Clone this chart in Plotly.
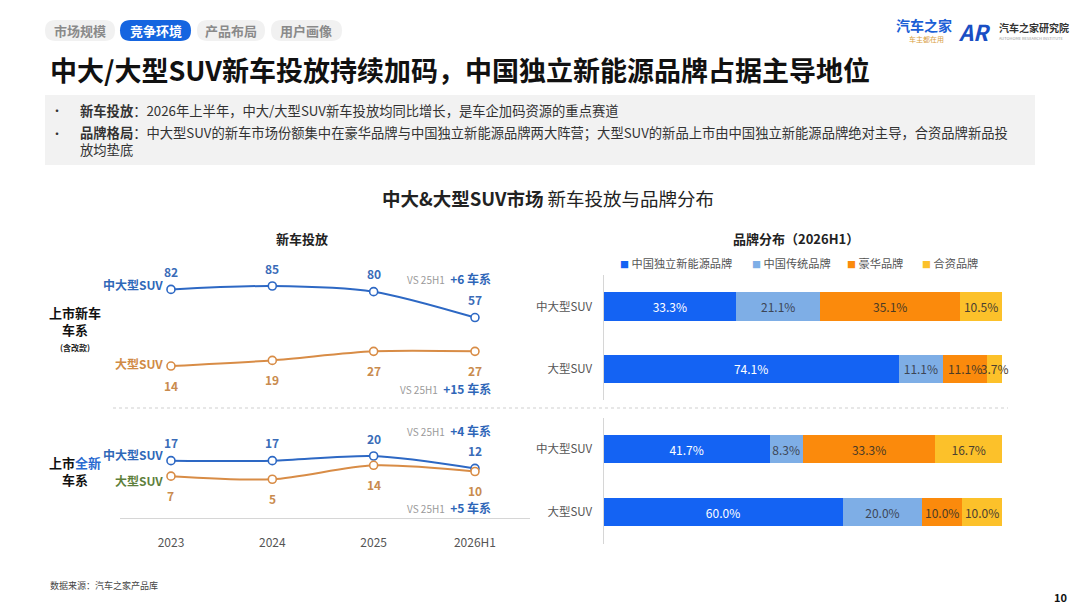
import plotly.graph_objects as go

W, H = 1080, 608
FONT = 'Noto Sans CJK SC'

# ---- data ----
years = ['2023', '2024', '2025', '2026H1']

launch_mid_large = [82, 85, 80, 57]     # 上市新车车系(含改款) 中大型SUV
launch_large     = [14, 19, 27, 27]     # 上市新车车系(含改款) 大型SUV
allnew_mid_large = [17, 17, 20, 12]     # 上市全新车系 中大型SUV
allnew_large     = [7, 5, 14, 10]       # 上市全新车系 大型SUV

vs_launch = ['+6 车系', '+15 车系']
vs_allnew = ['+4 车系', '+5 车系']

segments = ['中大型SUV', '大型SUV']
brands = ['中国独立新能源品牌', '中国传统品牌', '豪华品牌', '合资品牌']
share_launch = {
    '中国独立新能源品牌': [33.3, 74.1],
    '中国传统品牌':       [21.1, 11.1],
    '豪华品牌':           [35.1, 11.1],
    '合资品牌':           [10.5, 3.7],
}
share_allnew = {
    '中国独立新能源品牌': [41.7, 60.0],
    '中国传统品牌':       [8.3, 20.0],
    '豪华品牌':           [33.3, 10.0],
    '合资品牌':           [16.7, 10.0],
}

tabs = ['市场规模', '竞争环境', '产品布局', '用户画像']

# ---- styles ----
BLUE = '#2d68c4'
ORANGE = '#d88c46'
brand_colors = ['#1463f3', '#7eaee6', '#fb8a0c', '#fcc12a']
brand_text = ['#ffffff', '#3d4656', '#4a3a26', '#4a4030']


def px(p):
    return p / W


def py(p):
    return 1 - p / H


def pill(x0, y0, x1, y1):
    r = (y1 - y0) / 2
    return (f'M {px(x0 + r)},{py(y0)} L {px(x1 - r)},{py(y0)} '
            f'Q {px(x1)},{py(y0)} {px(x1)},{py(y0 + r)} '
            f'Q {px(x1)},{py(y1)} {px(x1 - r)},{py(y1)} '
            f'L {px(x0 + r)},{py(y1)} '
            f'Q {px(x0)},{py(y1)} {px(x0)},{py(y1 - r)} '
            f'Q {px(x0)},{py(y0)} {px(x0 + r)},{py(y0)} Z')


fig = go.Figure()

# ---- left: line charts ----
def add_line(vals, color, yaxis):
    fig.add_trace(go.Scatter(
        x=years, y=vals, xaxis='x', yaxis=yaxis,
        mode='lines+markers',
        line=dict(color=color, width=2, shape='spline', smoothing=0.8),
        marker=dict(size=8, color='white', line=dict(color=color, width=1.6)),
        showlegend=False, hoverinfo='x+y',
    ))


add_line(launch_mid_large, BLUE, 'y')
add_line(launch_large, ORANGE, 'y')
add_line(allnew_mid_large, BLUE, 'y2')
add_line(allnew_large, ORANGE, 'y2')

annotations = []


def value_labels(vals, yref, color, shift):
    # category index as x, so '2023' is not read as a number
    for i, v in enumerate(vals):
        annotations.append(dict(
            x=i, y=v, xref='x', yref=yref, yshift=shift, showarrow=False,
            text=f'<b>{v}</b>', font=dict(size=12, color=color),
        ))


value_labels(launch_mid_large, 'y', '#3a6cb8', 18)
value_labels(launch_large, 'y', '#c98b4e', -19)
value_labels(allnew_mid_large, 'y2', '#3a6cb8', 18)
value_labels(allnew_large, 'y2', '#c98b4e', -19)

# ---- right: stacked bars ----
for i, b in enumerate(brands):
    for shares, yax in ((share_launch, 'y3'), (share_allnew, 'y4')):
        fig.add_trace(go.Bar(
            y=segments, x=shares[b], orientation='h',
            xaxis='x2', yaxis=yax, width=0.46,
            marker=dict(color=brand_colors[i], line=dict(width=0)),
            text=[f'{v:.1f}%' for v in shares[b]],
            textposition='inside', insidetextanchor='middle', textangle=0,
            textfont=dict(size=12, color=brand_text[i]),
            constraintext='none', cliponaxis=False,
            name=b, showlegend=False,
        ))

# ---- text ----
def note(x, y, text, size=12, color='#222', anchor='center', **kw):
    annotations.append(dict(
        x=px(x), y=py(y), xref='paper', yref='paper', showarrow=False,
        xanchor=anchor, yanchor='middle', text=text,
        font=dict(size=size, color=color), **kw,
    ))


shapes = []

# tabs
tab_pos = [(45, 115), (120, 191), (197, 265), (271, 342)]
for t, (a, b) in zip(tabs, tab_pos):
    active = t == '竞争环境'
    shapes.append(dict(type='path', xref='paper', yref='paper', path=pill(a, 20, b, 41),
                       fillcolor='#1565e0' if active else '#f1f1f1', line=dict(width=0), layer='below'))
    note((a + b) / 2, 30.5, f'<b>{t}</b>', 13, 'white' if active else '#8a8a8a')

# title
note(48, 70, '<b>中大/大型SUV新车投放持续加码，中国独立新能源品牌占据主导地位</b>', 27, '#111', 'left')

# bullet box
shapes.append(dict(type='rect', xref='paper', yref='paper', x0=px(45), x1=px(1035), y0=py(95), y1=py(165),
                   fillcolor='#f2f2f2', line=dict(width=0), layer='below'))
note(57, 110, '•', 12, '#333')
note(57, 133, '•', 12, '#333')
note(78, 110, '<b>新车投放</b>：2026年上半年，中大/大型SUV新车投放均同比增长，是车企加码资源的重点赛道', 13.3, '#333', 'left')
note(78, 141.5, '<b>品牌格局</b>：中大型SUV的新车市场份额集中在豪华品牌与中国独立新能源品牌两大阵营；'
                '大型SUV的新品上市由中国独立新能源品牌绝对主导，合资品牌新品投<br>放均垫底',
     13.3, '#333', 'left', align='left')

# subtitles
note(548, 198, '<b>中大&大型SUV市场</b> 新车投放与品牌分布', 18.5, '#222')
note(302, 238, '<b>新车投放</b>', 13, '#222')
note(796, 238, '<b>品牌分布（2026H1）</b>', 13, '#222')

# brand legend
legend_x = [618, 750, 845, 920]
for b, c, x in zip(brands, brand_colors, legend_x):
    note(x, 263, f"<span style='color:{c};font-size:9px'>■</span> {b}", 11.2, '#555', 'left')

# row group labels
note(75, 321, '<b>上市新车<br>车系</b>', 13, '#111')
note(75, 347, '<b>(含改款)</b>', 8, '#222')
note(75, 471, "<b>上市<span style='color:#2a6ad0'>全新</span><br>车系</b>", 13, '#111')

note(165, 284, '<b>中大型SUV</b>', 12, '#3068b8', 'right')
note(165, 363, '<b>大型SUV</b>', 12, '#d08a45', 'right')
note(165, 454, '<b>中大型SUV</b>', 12, '#3068b8', 'right')
note(165, 480, '<b>大型SUV</b>', 12, '#5e7f3c', 'right')


def vs_note(y, txt):
    note(493, y, f"<span style='color:#9a9a9a;font-size:10px'>VS 25H1</span>  <b>{txt}</b>",
         12, '#2e66b8', 'right')


vs_note(278, vs_launch[0])
vs_note(388, vs_launch[1])
vs_note(430, vs_allnew[0])
vs_note(507, vs_allnew[1])

# separator
shapes.append(dict(type='line', xref='paper', yref='paper', x0=px(113), x1=px(1008), y0=py(408), y1=py(408),
                   line=dict(color='#cfcfcf', width=1, dash='dot')))

# footer
note(48, 585, '数据来源：汽车之家产品库', 9, '#444', 'left')
note(1060, 597, '<b>10</b>', 11, '#111')

# logo
note(924, 25, '<b>汽车之家</b>', 14, '#1a5fd6')
note(926, 39, '车主都在用', 7, '#d9a040')
note(974, 31, '<b><i>AR</i></b>', 22, '#1a4fc4')
note(997, 28, '<b>汽车之家研究院</b>', 10, '#333', 'left')
note(997, 38, 'AUTOHOME RESEARCH INSTITUTE', 4, '#999', 'left')

fig.update_layout(
    width=W, height=H,
    margin=dict(l=0, r=0, t=0, b=0),
    paper_bgcolor='white', plot_bgcolor='white',
    font=dict(family=FONT, size=12, color='#333'),
    barmode='stack',
    uniformtext=dict(minsize=12, mode='show'),
    showlegend=False,
    annotations=annotations,
    shapes=shapes,
    xaxis=dict(domain=[px(120), px(530)], type='category', range=[-0.503, 3.543],
               anchor='free', position=py(518), showline=True, linecolor='#d6d6d6', linewidth=1,
               showgrid=False, zeroline=False, ticks='', ticklabelstandoff=14,
               tickfont=dict(size=12, color='#555')),
    yaxis=dict(domain=[py(381.8), py(269.1)], range=[0, 100], anchor='x', visible=False),
    yaxis2=dict(domain=[py(487), py(440.5)], range=[0, 30], anchor='x', visible=False),
    xaxis2=dict(domain=[px(603.5), px(1002)], range=[0, 100], anchor='free', position=0,
                visible=False),
    yaxis3=dict(domain=[py(400.25), py(275.25)], type='category', categoryorder='array',
                categoryarray=segments, range=[1.5, -0.5], anchor='x2',
                showline=True, linecolor='#d6d6d6', ticks='', ticklabelstandoff=8,
                showgrid=False, tickfont=dict(size=11.5, color='#555')),
    yaxis4=dict(domain=[py(543.5), py(417.5)], type='category', categoryorder='array',
                categoryarray=segments, range=[1.5, -0.5], anchor='x2',
                showline=True, linecolor='#d6d6d6', ticks='', ticklabelstandoff=8,
                showgrid=False, tickfont=dict(size=11.5, color='#555')),
)

# page body has a default 8px margin; drop it so the 1080x608 figure fills the window
fig.write_html('out.html', config={'displayModeBar': False},
               post_script="document.body.style.margin='0';")
